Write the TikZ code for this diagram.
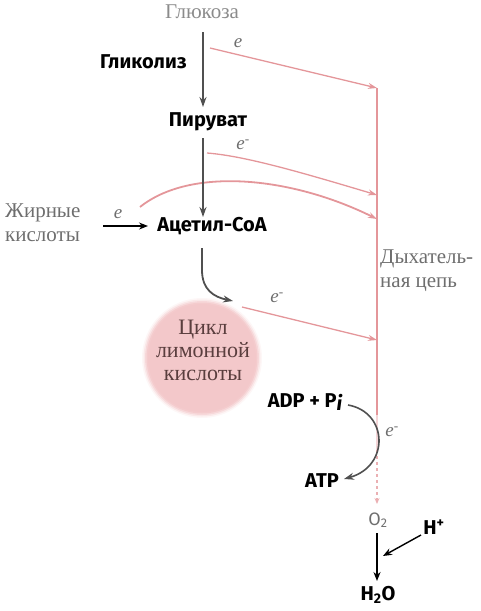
\documentclass[tikz,border=0pt]{standalone}
\usepackage{fontspec}
\setmainfont{Liberation Serif}
\setsansfont{Fira Sans}
\usetikzlibrary{arrows.meta}
\definecolor{pinkline}{RGB}{228,150,154}
\definecolor{darkarr}{RGB}{80,80,80}
\definecolor{graytxt}{RGB}{110,110,110}
\definecolor{cyclefill}{RGB}{243,200,202}
\definecolor{cycletxt}{RGB}{90,62,62}
\begin{document}
\begin{tikzpicture}[x=1pt,y=-1pt,
 lbl/.style={font=\sffamily\bfseries\fontsize{20}{24}\selectfont, inner sep=0pt},
 gtxt/.style={font=\fontsize{21}{24}\selectfont, text=graytxt, inner sep=0pt, align=left},
 elbl/.style={font=\itshape\fontsize{19}{20}\selectfont, text=graytxt, inner sep=0pt},
 darrow/.style={draw=darkarr, line width=1.8pt, -{Stealth[length=10pt,width=7pt]}},
 parrow/.style={draw=pinkline, line width=1.3pt, -{Stealth[length=9pt,width=6pt]}},
 barrow/.style={draw=black, line width=1.4pt, -{Stealth[length=9pt,width=7pt]}},
]
\useasboundingbox (0,0) rectangle (481,611);
% citric acid cycle disc
\foreach \r/\o in {60/0.15,58.5/0.3,57/0.5,55.5/0.8}{\fill[cyclefill,opacity=\o] (202,358) circle (\r);}
\fill[cyclefill] (202,358) circle (54);
\node[font=\fontsize{22}{23}\selectfont, text=cycletxt, align=center, inner sep=0pt] (tca) at (203,350) {Цикл\\лимонной\\кислоты};
% nodes
\node[gtxt, text=graytxt!80] (glu) at (202,12) {Глюкоза};
\node[lbl, anchor=east] (gly) at (187,62) {Гликолиз};
\node[lbl] (pyr) at (208,122) {Пируват};
\node[lbl] (acc) at (212,226) {Ацетил-CoA};
\node[gtxt, anchor=west] (fat) at (5,223) {Жирные\\кислоты};
\node[gtxt, anchor=west] (resp) at (380,271) {Дыхатель-\\ная цепь};
\node[lbl] (adp) at (305,402) {ADP + P\raisebox{-3pt}{\itshape i}};
\node[lbl] (atp) at (322,481) {ATP};
\node[font=\sffamily\fontsize{18}{20}\selectfont, text=graytxt, inner sep=0pt] (o2) at (378,520) {O\textsubscript{2}};
\node[lbl] (hplus) at (434,527) {H\textsuperscript{+}};
\node[lbl] (h2o) at (378,595) {H\textsubscript{2}O};
% e labels
\node[elbl] (e1) at (238,43) {e};
\node[elbl] (e2) at (243,145) {e\textsuperscript{-}};
\node[elbl] (e3) at (118,214) {e};
\node[elbl] (e4) at (277,298) {e\textsuperscript{-}};
\node[elbl] (e5) at (392,432) {e\textsuperscript{-}};
% coordinates
\coordinate (g1) at (203,32); \coordinate (g2) at (203,107);
\coordinate (p1) at (203,138); \coordinate (p2) at (203,217);
\coordinate (a1) at (202,248); \coordinate (a2) at (233,301);
\coordinate (f1) at (103,226); \coordinate (f2) at (148,226);
\coordinate (j1) at (377,88); \coordinate (j2) at (377,195);
\coordinate (j3) at (377,219); \coordinate (j4) at (377,340);
\coordinate (jm) at (377,415); \coordinate (jn) at (377,450); \coordinate (jb) at (377,504);
\coordinate (s1) at (210,48); \coordinate (s2) at (207,153);
\coordinate (s3) at (140,207); \coordinate (s4) at (242,307);
\coordinate (d1) at (348,405); \coordinate (d2) at (344,479);
\coordinate (o1) at (377,533); \coordinate (o3) at (377,581);
\coordinate (h1) at (421,535); \coordinate (h2) at (383,556);
% respiratory chain
\draw[pinkline, line width=1.5pt] (j1) -- (jm);
\draw[pinkline!40, line width=1.5pt] (jm) -- (jn);
\draw[pinkline!75, line width=1.5pt, dashed, -{Stealth[length=6pt,width=5pt]}] (jn) -- (jb);
% electron flows
\draw[parrow] (s1) -- (j1);
\draw[parrow] (s2) .. controls (245,156) and (300,172) .. (j2);
\draw[parrow, line width=1.8pt] (s3) .. controls (190,167) and (290,176) .. (j3);
\draw[parrow] (s4) -- (j4);
% main pathway
\draw[darrow] (g1) -- (g2);
\draw[darrow] (p1) -- (p2);
\draw[darrow] (a1) -- (202,270) .. controls (202,290) and (214,297) .. (a2);
\draw[barrow, line width=1.3pt] (f1) -- (f2);
\draw[darrow, line width=1.6pt] (d1) .. controls (388,412) and (390,466) .. (d2);
\draw[barrow, line width=2pt] (o1) -- (o3);
\draw[barrow] (h1) -- (h2);
\end{tikzpicture}
\end{document}
